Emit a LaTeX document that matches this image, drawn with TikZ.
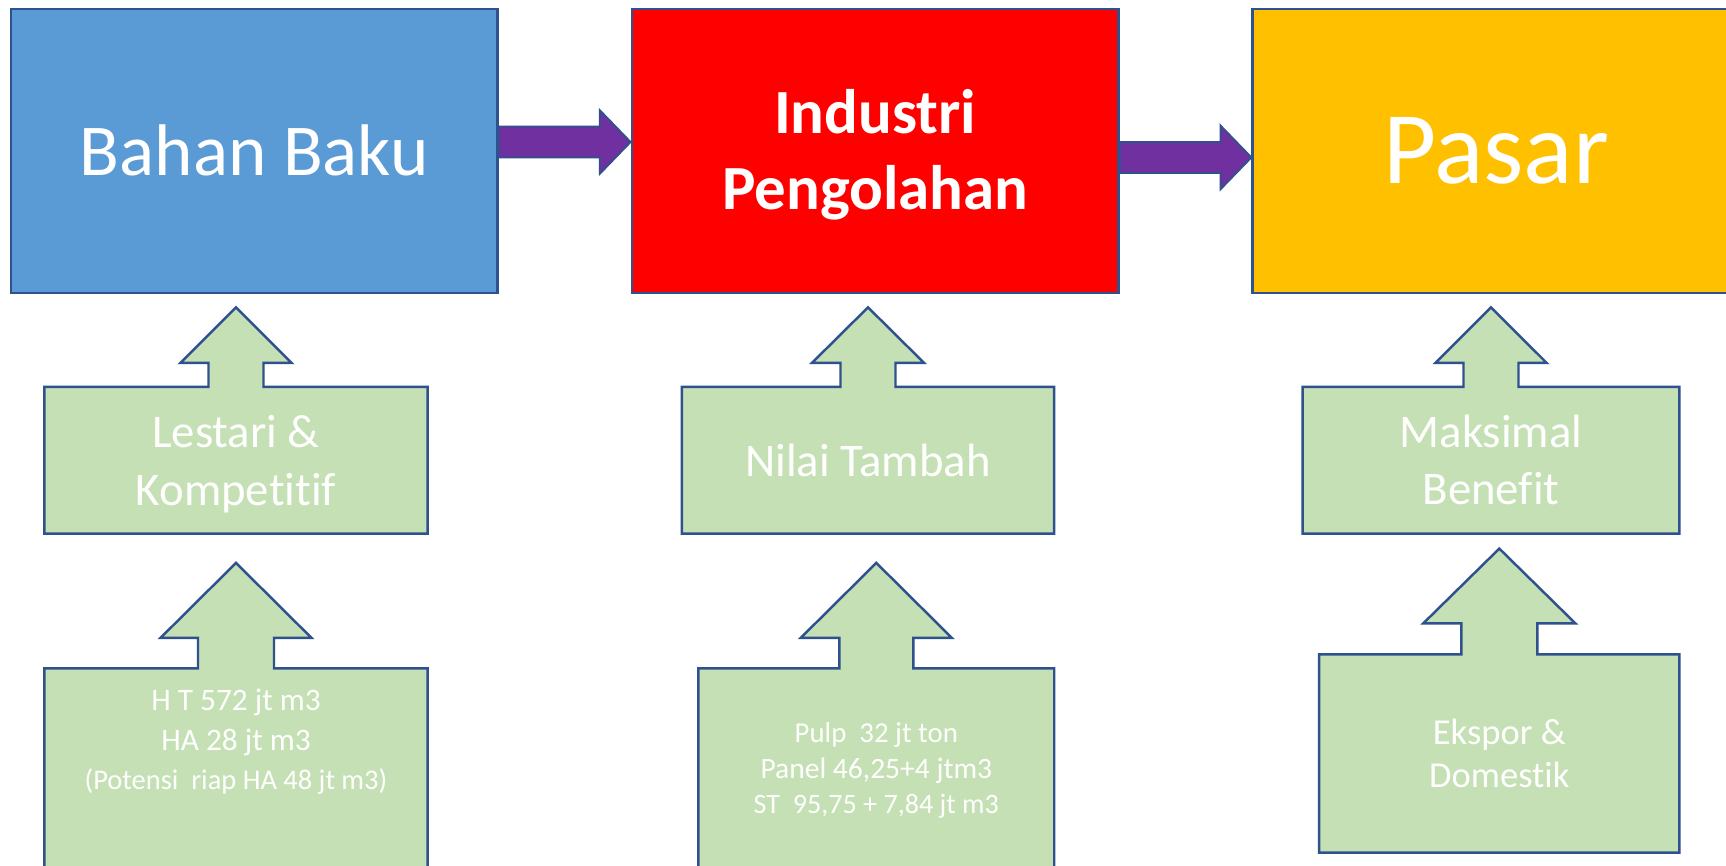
\documentclass[tikz,border=0pt]{standalone}
\usepackage{fontspec}
\setmainfont{Carlito}[Ligatures={NoCommon}]
\usetikzlibrary{arrows.meta,positioning,calc,backgrounds}
\definecolor{BoxBlue}{HTML}{5B9BD5}
\definecolor{BoxRed}{HTML}{FF0000}
\definecolor{BoxGold}{HTML}{FFC000}
\definecolor{FlowPurple}{HTML}{7030A0}
\definecolor{CalloutGreen}{HTML}{C5E0B4}
\definecolor{EdgeBlue}{HTML}{2F528F}

\begin{document}
\begin{tikzpicture}[
  stage/.style={draw=EdgeBlue,line width=0.7pt,minimum width=4.866cm,minimum height=2.84cm,inner sep=0pt,text=white,align=center},
  goal/.style={inner sep=0pt,text=white,align=center},
  callout/.style={fill=CalloutGreen,draw=EdgeBlue,line width=0.7pt},
  flow/.style={fill=FlowPurple,draw=EdgeBlue,line width=0.5pt}
]
\useasboundingbox (0,0) rectangle (17.26,-8.65);
\clip (0,0) rectangle (17.26,-8.65);

% top row
\node[stage,fill=BoxBlue,font=\fontsize{20.8}{25}\selectfont] (bahan) at (2.543,-1.508) {Bahan Baku};
\node[stage,fill=BoxRed,font=\fontsize{17.9}{21.9}\selectfont\bfseries] (industri) at (8.752,-1.508) {\rule{0pt}{0.52cm}Industri\\Pengolahan};
\node[stage,fill=BoxGold,font=\fontsize{29.3}{35}\selectfont] (pasar) at (14.96,-1.508) {Pasar};

\foreach \a/\b/\dy in {bahan/industri/0.088,industri/pasar/-0.066} {
  \draw[flow] ($(\a.east)+(0,\dy+0.155)$) -- ($(\b.west)+(-0.31,\dy+0.155)$)
    -- ($(\b.west)+(-0.31,\dy+0.32)$) -- ($(\b.west)+(0,\dy)$)
    -- ($(\b.west)+(-0.31,\dy-0.32)$) -- ($(\b.west)+(-0.31,\dy-0.155)$)
    -- ($(\a.east)+(0,\dy-0.155)$) -- cycle;
}

% middle row
\node[goal,minimum width=3.82cm,minimum height=1.453cm,font=\fontsize{13.3}{16.3}\selectfont] (lestari) at (2.36,-4.602) {\rule{0pt}{0.4cm}Lestari \&\\Kompetitif};
\node[goal,minimum width=3.71cm,minimum height=1.453cm,font=\fontsize{13.3}{16.3}\selectfont] (nilai) at (8.68,-4.602) {Nilai Tambah};
\node[goal,minimum width=3.754cm,minimum height=1.453cm,font=\fontsize{13.3}{16.3}\selectfont] (maksimal) at (14.91,-4.602) {Maksimal\\Benefit};

% bottom row
\node[goal,minimum width=3.82cm,minimum height=2.11cm] (potensi) at (2.36,-7.745) {};
\node[goal,font=\fontsize{8.9}{11.2}\selectfont] (potensitext) at (2.36,-7.42) {H T 572 jt m3\\HA 28 jt m3\\{\fontsize{8.1}{11.2}\selectfont(Potensi\ \ riap HA 48 jt m3)}};
\node[goal,minimum width=3.545cm,minimum height=2.11cm] (produk) at (8.763,-7.745) {};
\node[goal,font=\fontsize{8}{10.1}\selectfont] (produktext) at (8.763,-7.706) {{\fontsize{8.2}{10.1}\selectfont Pulp\ \ 32 jt ton}\\{\fontsize{8.4}{10.1}\selectfont Panel 46,25+4 jtm3}\\ST\ \ 95,75 + 7,84 jt m3};
\node[goal,minimum width=3.588cm,minimum height=1.97cm,font=\fontsize{10.4}{12.2}\selectfont] (ekspor) at (14.993,-7.535) {Ekspor \&\\Domestik};

\begin{scope}[on background layer]
\fill[white] (0,0) rectangle (17.26,-8.65);
\clip (0,0) rectangle (17.26,-8.65);
\foreach \n/\nw/\hw/\hb/\tp in {lestari/0.275/0.556/0.24/0.795,nilai/0.275/0.56/0.24/0.795,maksimal/0.275/0.556/0.24/0.795,potensi/0.38/0.754/0.305/1.054,produk/0.37/0.755/0.305/1.054,ekspor/0.38/0.76/0.31/1.057} {
  \draw[callout] (\n.south west) -- (\n.north west) -- ($(\n.north)+(-\nw,0)$)
    -- ($(\n.north)+(-\nw,\hb)$) -- ($(\n.north)+(-\hw,\hb)$) -- ($(\n.north)+(0,\tp)$)
    -- ($(\n.north)+(\hw,\hb)$) -- ($(\n.north)+(\nw,\hb)$) -- ($(\n.north)+(\nw,0)$)
    -- (\n.north east) -- (\n.south east) -- cycle;
}
\end{scope}
\end{tikzpicture}
\end{document}
